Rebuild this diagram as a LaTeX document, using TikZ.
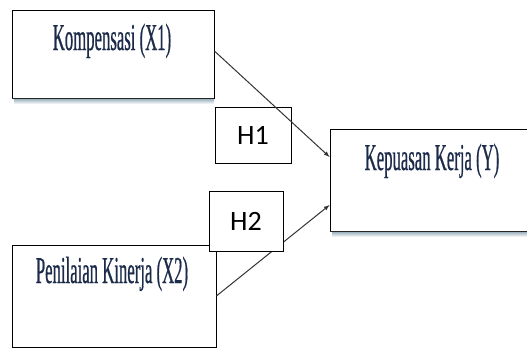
\documentclass[tikz,border=0pt]{standalone}
\usepackage{fontspec}
\newfontfamily\varfont[FakeStretch=0.44,FakeBold=0.5]{Liberation Serif}
\newfontfamily\hypfont{Carlito}
\usetikzlibrary{positioning}
\definecolor{navy}{HTML}{1C2B4A}
\definecolor{shadowblue}{HTML}{8CA3B3}
\tikzset{
  >=latex,
  varbox/.style={draw, line width=.8pt, fill=white, inner sep=0pt},
  hypbox/.style={draw, line width=.6pt, fill=white, inner sep=0pt,
    font=\hypfont\fontsize{28}{30}\selectfont},
  vartext/.style={navy, anchor=base, font=\varfont\fontsize{38}{40}\selectfont},
  path/.style={->, line width=1pt, black!80},
}

\begin{document}
\begin{tikzpicture}[x=1pt,y=-1pt]
    \useasboundingbox (0,0) rectangle (527,348);
    \clip (0,0) rectangle (527,348);
    % variables
    \shade[top color=shadowblue,bottom color=white] (14,98) rectangle (214,104);
    \shade[top color=shadowblue,bottom color=white] (332,231) rectangle (527,237);
    \node[varbox,minimum width=202pt,minimum height=88pt] (x1) at (113,54) {};
    \node[varbox,minimum width=204pt,minimum height=102pt] (x2) at (114,296) {};
    \node[varbox,minimum width=200pt,minimum height=102pt] (y) at (430,180) {};
    \draw[line width=1.2pt,black!85] (x1.south west) -- (x1.south east);
    \draw[line width=1.2pt,black!85] (y.south west) -- (y.south east);
    \node[vartext] (x1text) at (112,50) {Kompensasi (X1)};
    \node[vartext] (x2text) at (112,283) {Penilaian Kinerja (X2)};
    \node[vartext] (ytext) at (432,170) {Kepuasan Kerja (Y)};
    % hypotheses
    \node[hypbox,minimum width=76pt,minimum height=56pt] (h1) at (253,135) {H1};
    \draw[path] ([yshift=3pt]x1.east) -- ([yshift=23pt]y.west);
    \draw[path] (x2.east) -- ([yshift=-25pt]y.west);
    \node[hypbox,minimum width=74pt,minimum height=60pt] (h2) at (246,221) {H2};
  \end{tikzpicture}
\end{document}
